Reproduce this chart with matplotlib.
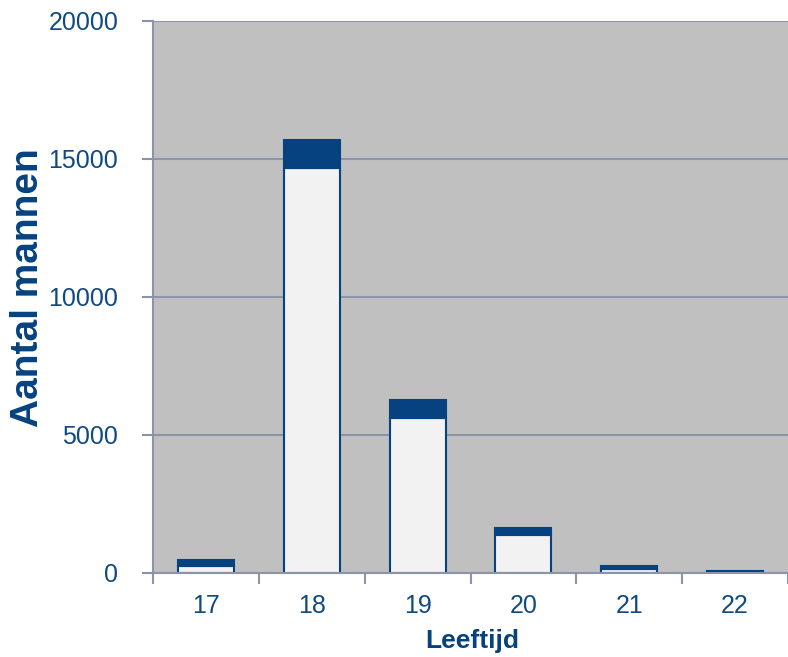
import matplotlib
matplotlib.use("Agg")
import matplotlib.pyplot as plt
import numpy as np

plt.rcParams["font.family"] = ["Liberation Sans", "DejaVu Sans"]

ages = ["17", "18", "19", "20", "21", "22"]
lower = [265, 14660, 5620, 1370, 145, 20]
upper = [195, 1030, 640, 250, 120, 50]

navy = "#05427F"
textcol = "#0F4A85"
gridcol = "#8C94AC"

fig = plt.figure(figsize=(7.88, 6.57), dpi=100)
ax = fig.add_axes([153/788, 84/657, 635/788, 552/657])
ax.set_facecolor("#C0C0C0")

x = np.arange(len(ages))
ax.bar(x, lower, width=0.53, color="#F2F2F2", edgecolor=navy, linewidth=1.5, zorder=3)
ax.bar(x, upper, width=0.53, bottom=lower, color=navy, edgecolor=navy, linewidth=1.5, zorder=3)

ax.set_xlim(-0.5, len(ages) - 0.5)
ax.set_ylim(0, 20000)
ax.set_yticks([0, 5000, 10000, 15000, 20000])
ax.set_xticks(x)
ax.set_xticklabels(ages)
ax.set_xticks(np.arange(-0.5, len(ages)), minor=True)
ax.tick_params(axis="x", which="major", length=0, pad=15, labelsize=18, labelcolor=textcol)
ax.tick_params(axis="x", which="minor", length=8, width=1.5, color=gridcol, direction="out")
ax.tick_params(axis="y", length=8, width=1.5, color=gridcol, pad=17, labelsize=18, labelcolor=textcol)

ax.grid(axis="y", color=gridcol, linewidth=1.5, zorder=1)
ax.set_axisbelow(True)
for side in ["top", "right"]:
    ax.spines[side].set_visible(False)
for side in ["left", "bottom"]:
    ax.spines[side].set_color(gridcol)
    ax.spines[side].set_linewidth(1.5)
    ax.spines[side].set_zorder(4)

fig.text(28/788, 1 - 288/657, "Aantal mannen", rotation=90, ha="center", va="center",
         fontsize=28, fontweight="bold", color=navy)
fig.text(472/788, 1 - 641/657, "Leeftijd", ha="center", va="center",
         fontsize=19, fontweight="bold", color=navy)

fig.savefig("out.png", dpi=100)
